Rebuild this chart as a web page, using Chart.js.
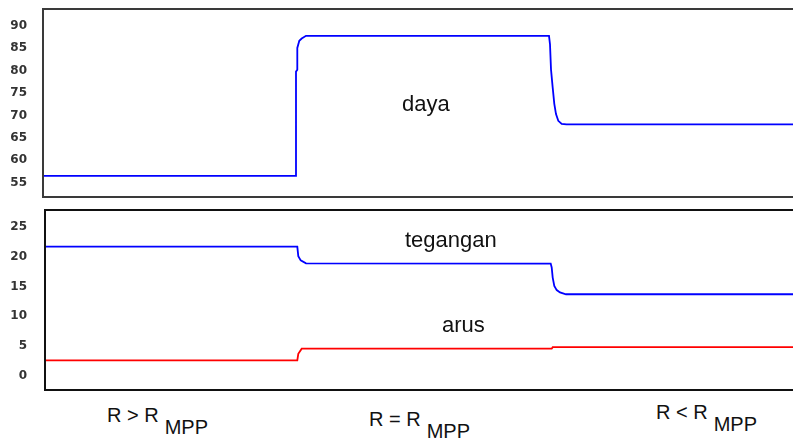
<!DOCTYPE html>
<html>
<head>
<meta charset="utf-8">
<script src="https://cdn.jsdelivr.net/npm/chart.js@4/dist/chart.umd.min.js"></script>
<style>
  html, body { margin: 0; padding: 0; background: #ffffff; }
  body { width: 793px; height: 443px; position: relative; overflow: hidden; }
  canvas { position: absolute; left: 0; }
  .lbl { position: absolute; font-family: "Liberation Sans", Arial, sans-serif; color: #111; line-height: 1; white-space: nowrap; }
  .big { font-size: 22px; }
  .cond { font-size: 20px; }
  .sub { position: relative; top: 12px; margin-left: 6px; }
</style>
</head>
<body>
<canvas id="top" width="800" height="200" style="top:0px"></canvas>
<canvas id="bottom" width="800" height="200" style="top:200px"></canvas>

<div class="lbl big" style="left:402px; top:93px;">daya</div>
<div class="lbl big" style="left:405px; top:229px;">tegangan</div>
<div class="lbl big" style="left:442px; top:314px;">arus</div>

<div class="lbl cond" style="left:107px; top:405px;">R &gt; R<span class="sub">MPP</span></div>
<div class="lbl cond" style="left:369px; top:409px;">R = R<span class="sub">MPP</span></div>
<div class="lbl cond" style="left:656px; top:402px;">R &lt; R<span class="sub">MPP</span></div>

<script>
// ---- Data (time in arbitrary seconds) ----
const powerTime   = [0, 5.06, 5.06, 5.086, 5.086, 5.126, 5.174, 5.26, 10.12, 10.14, 10.16, 10.194, 10.226, 10.26, 10.306, 10.374, 10.47, 15.14];
const powerValues = [56.5, 56.5, 79.8, 80.2, 85.1, 86.7, 87.2, 87.8, 87.8, 85.9, 80.3, 76.2, 72.6, 70.3, 68.8, 68.1, 68.0, 68.0];

const voltageTime   = [0, 5.046, 5.066, 5.114, 5.22, 10.114, 10.134, 10.154, 10.186, 10.234, 10.3, 10.42, 15.1];
const voltageValues = [21.7, 21.7, 20.1, 19.4, 18.9, 18.85, 18.2, 16.5, 15.1, 14.4, 14.0, 13.7, 13.7];

const currentTime   = [0, 5.046, 5.066, 5.134, 10.134, 10.154, 15.1];
const currentValues = [2.6, 2.6, 3.7, 4.55, 4.55, 4.8, 4.8];

const topTicks    = [55, 60, 65, 70, 75, 80, 85, 90];
const bottomTicks = [0, 5, 10, 15, 20, 25];

function pts(xs, ys) { return xs.map((x, i) => ({ x: x, y: ys[i] })); }

const boxPlugin = {
  id: 'box',
  afterDraw(chart, args, opts) {
    const a = chart.chartArea, ctx = chart.ctx;
    ctx.save();
    ctx.strokeStyle = opts.color || '#333';
    ctx.lineWidth = 2;
    ctx.strokeRect(a.left, a.top, a.right - a.left + 10, a.bottom - a.top);
    ctx.restore();
  }
};

function makeChart(id, datasets, cfg) {
  return new Chart(document.getElementById(id), {
    type: 'line',
    data: { datasets: datasets },
    plugins: [boxPlugin],
    options: {
      responsive: false,
      animation: false,
      devicePixelRatio: 1,
      layout: { padding: { left: 0, right: 0, top: cfg.padTop, bottom: cfg.padBottom } },
      plugins: { legend: { display: false }, tooltip: { enabled: false }, box: { color: cfg.boxColor } },
      elements: { point: { radius: 0 }, line: { tension: 0, borderJoinStyle: 'miter' } },
      scales: {
        x: { type: 'linear', display: false, min: 0, max: cfg.xMax },
        y: {
          min: cfg.yMin, max: cfg.yMax,
          grid: { display: false, drawTicks: false },
          border: { display: false },
          afterFit(scale) {
            scale.width = cfg.axisWidth;
            scale.paddingTop = 0; scale.paddingBottom = 0;
            scale.paddingLeft = 0; scale.paddingRight = 0;
          },
          afterBuildTicks(scale) { scale.ticks = cfg.ticks.map(v => ({ value: v })); },
          ticks: {
            padding: cfg.tickPad,
            color: '#333',
            font: { family: 'DejaVu Sans', size: 12, weight: 'bold' }
          }
        }
      }
    }
  });
}

makeChart('top', [
  { data: pts(powerTime, powerValues), borderColor: '#0000ff', borderWidth: 1.8, fill: false }
], { padTop: 9, padBottom: 3, xMax: 15.14, yMin: 51.76, yMax: 93.8, axisWidth: 43, tickPad: 16, ticks: topTicks, boxColor: '#3a3a3a' });

makeChart('bottom', [
  { data: pts(voltageTime, voltageValues), borderColor: '#0000ff', borderWidth: 1.8, fill: false },
  { data: pts(currentTime, currentValues), borderColor: '#ff0000', borderWidth: 1.8, fill: false }
], { padTop: 10, padBottom: 10, xMax: 15.1, yMin: -2.39, yMax: 27.86, axisWidth: 45, tickPad: 18, ticks: bottomTicks, boxColor: '#111' });
</script>
</body>
</html>
